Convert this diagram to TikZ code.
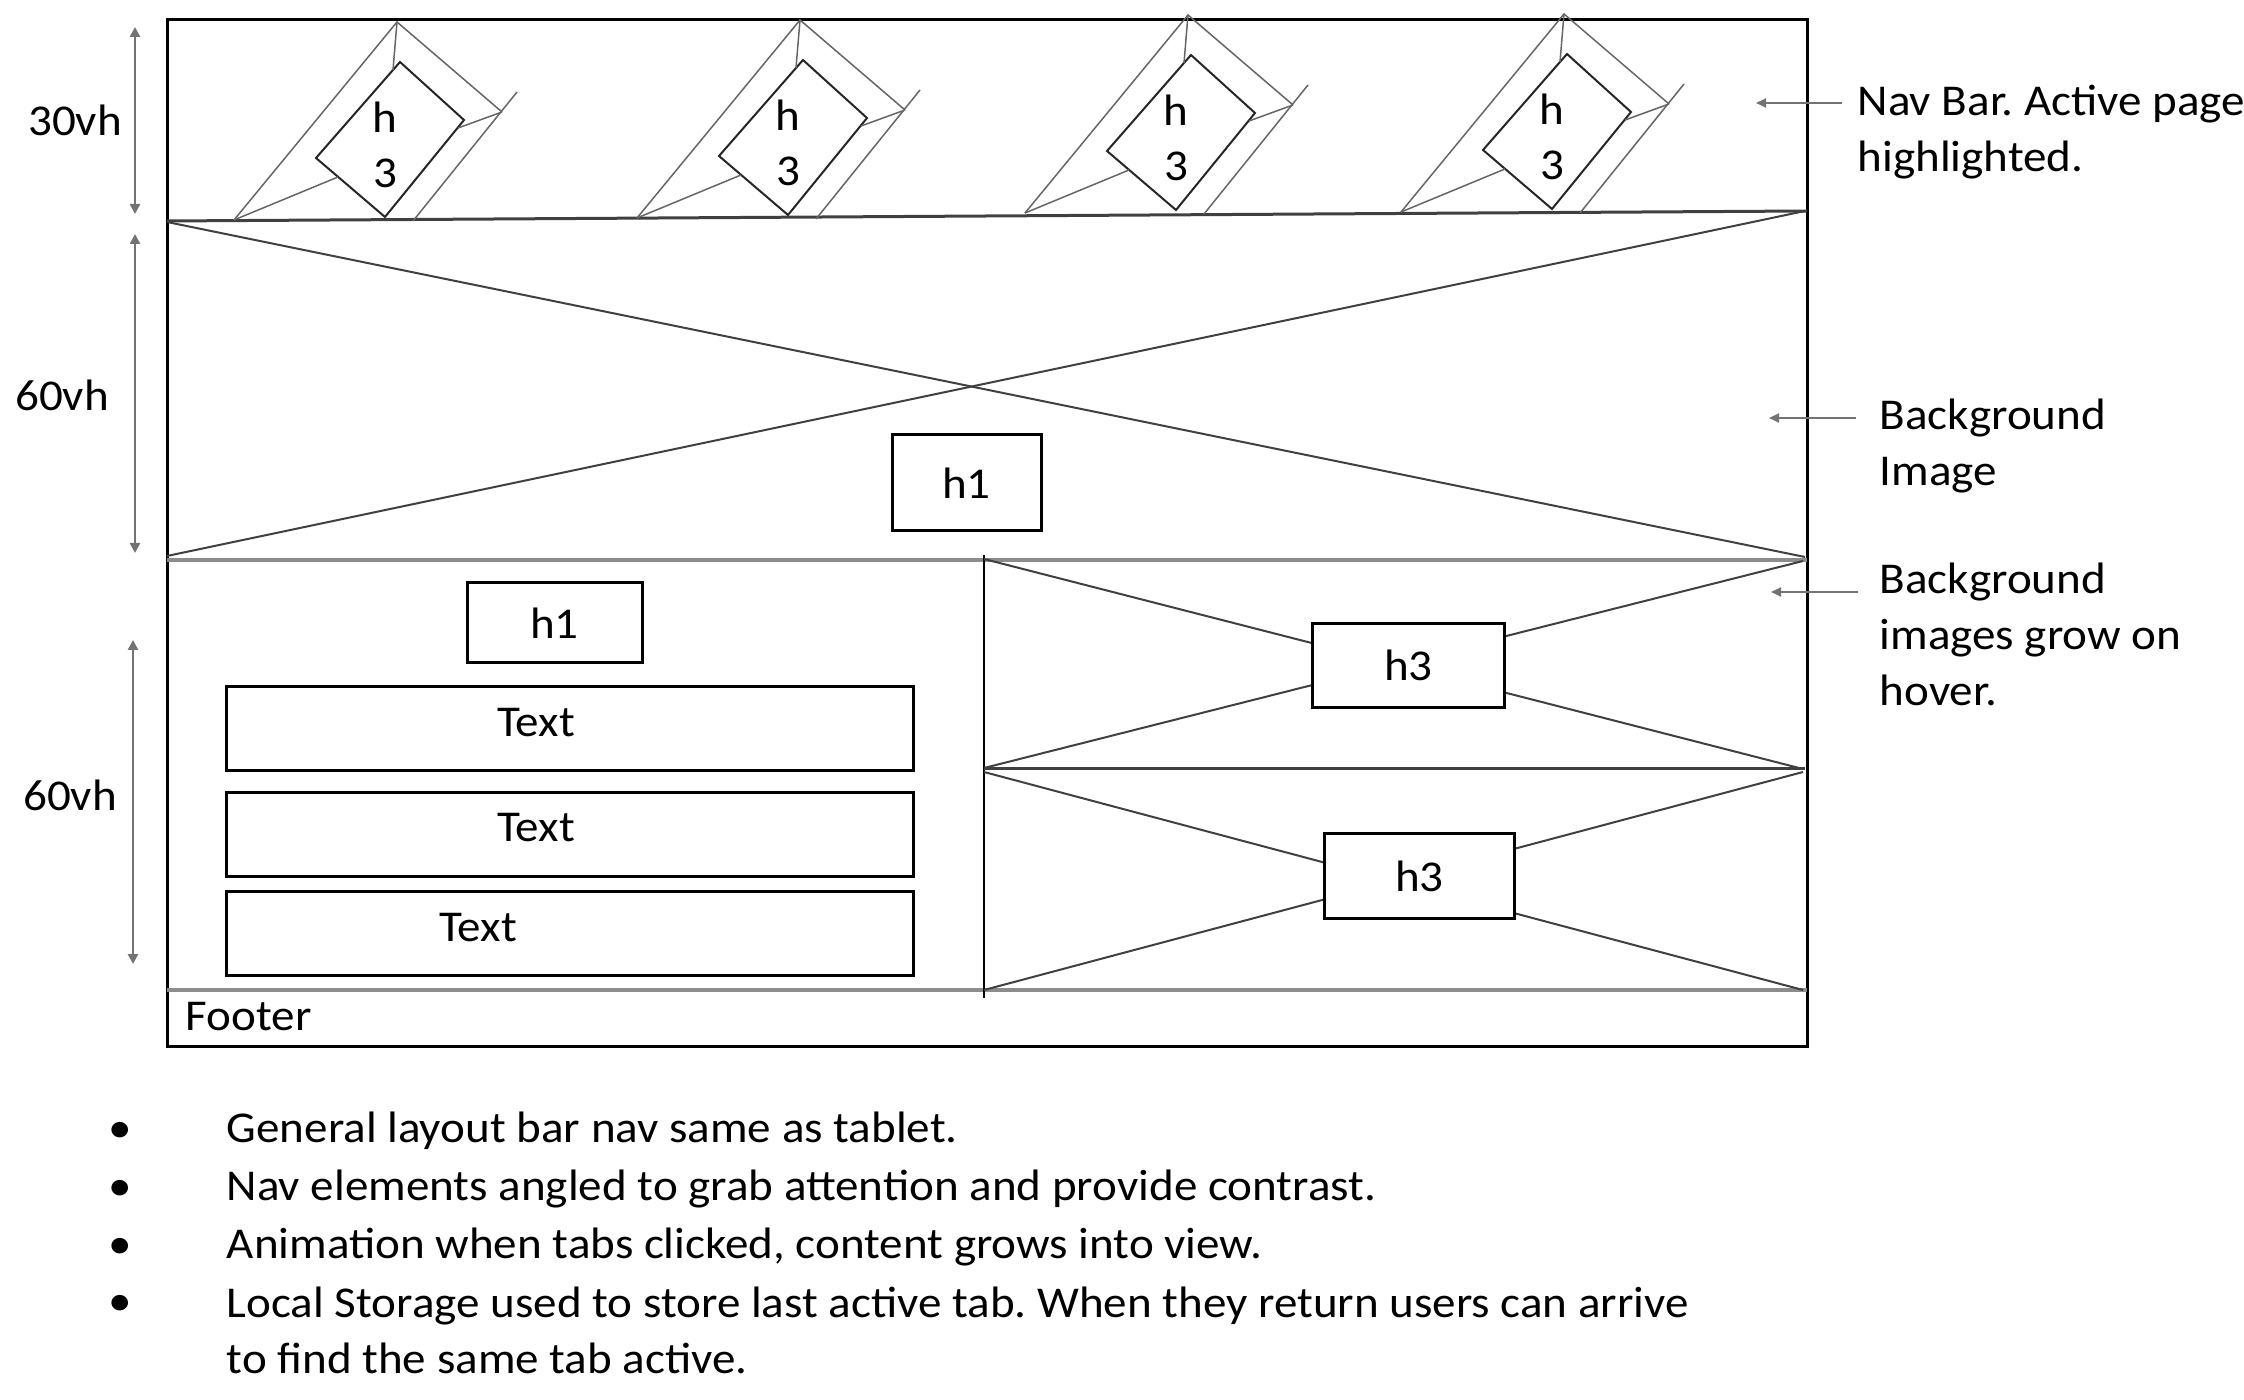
\documentclass[tikz,border=0pt]{standalone}
\usepackage{fontspec}
\setmainfont{Carlito}[FakeStretch=1.07]
\usetikzlibrary{arrows.meta}
\frenchspacing

\tikzset{every picture/.style={line width=0.75pt}}

\begin{document}
\begin{tikzpicture}[x=0.5pt,y=0.5pt,yscale=-1,xscale=1,
  every node/.style={font=\fontsize{22}{28}\selectfont, inner sep=0pt},
  frame/.style={draw=black, line width=1.5pt},
  navline/.style={draw=black!75, line width=1.5pt},
  band/.style={draw=black!45, line width=2.2pt},
  cross/.style={draw=black!75, line width=1pt},
  divider/.style={draw=black, line width=0.75pt},
  tabline/.style={draw=black!60, line width=0.75pt},
  tabface/.style={draw=black!85, line width=1pt},
  hbox/.style={draw=black, fill=white, line width=1.5pt},
  textbox/.style={draw=black, line width=1.5pt, minimum width=343.5pt, minimum height=42pt},
  note/.style={draw=black!55, line width=1pt, -{Triangle[length=5pt,width=4.5pt]}},
  dimarrow/.style={draw=black!55, line width=1.3pt, {Triangle[length=5pt,width=5pt]}-{Triangle[length=5pt,width=5pt]}},
  lbl/.style={align=left}
]
\useasboundingbox (0,0) rectangle (2244,1400);

%Shape: Page frame
\draw[frame] (167,20) rectangle (1807,1046) ;

%Shape: Hero image cross
\draw[cross] (167,222) -- (1805,557) ;
\draw[cross] (167,556) -- (1805,211) ;
%Shape: Nav bar bottom
\draw[navline] (167,221) -- (1807,211) ;
%Shape: Hero bottom
\draw[band] (167,560) -- (1807,560) ;
%Shape: Footer top
\draw[band] (167,990) -- (1807,990) ;
%Shape: Column divider
\draw[divider] (984,555) -- (984,998) ;

%Shape: Upper tile cross
\draw[cross] (984,559) -- (1803,769) ;
\draw[cross] (984,768) -- (1803,561) ;
%Shape: Lower tile cross
\draw[cross] (984,772) -- (1803,990) ;
\draw[cross] (984,990) -- (1803,772) ;
%Shape: Tile split
\draw[navline] (984,769) -- (1805,769) ;

%Shape: Tab 1
\draw[tabline] (234,220) -- (397,22) -- (502,112) ;
\draw[tabline] (517,92) -- (413,221) ;
\draw[tabface] (400,62) -- (464,120) -- (385,217) -- (316,158) -- cycle ;
\draw[tabline] (397,22) -- (393,70) ;
\draw[tabline] (234,220) -- (338,177) ;
\draw[tabline] (502,112) -- (458,128) ;
%Shape: Tab 2
\draw[tabline] (637,218) -- (800,20) -- (905,110) ;
\draw[tabline] (920,90) -- (816,219) ;
\draw[tabface] (803,60) -- (867,118) -- (788,215) -- (719,156) -- cycle ;
\draw[tabline] (800,20) -- (796,68) ;
\draw[tabline] (637,218) -- (741,175) ;
\draw[tabline] (905,110) -- (861,126) ;
%Shape: Tab 3
\draw[tabline] (1025,213) -- (1188,15) -- (1293,105) ;
\draw[tabline] (1308,85) -- (1204,214) ;
\draw[tabface] (1191,55) -- (1255,113) -- (1176,210) -- (1107,151) -- cycle ;
\draw[tabline] (1188,15) -- (1184,63) ;
\draw[tabline] (1025,213) -- (1129,170) ;
\draw[tabline] (1293,105) -- (1249,121) ;
%Shape: Tab 4
\draw[tabline] (1401,212) -- (1564,14) -- (1669,104) ;
\draw[tabline] (1684,84) -- (1580,213) ;
\draw[tabface] (1567,54) -- (1631,112) -- (1552,209) -- (1483,150) -- cycle ;
\draw[tabline] (1564,14) -- (1560,62) ;
\draw[tabline] (1401,212) -- (1505,169) ;
\draw[tabline] (1669,104) -- (1625,120) ;

% Text Node
\node[anchor=base] (tabhA) at (385,133) {h};
\node[anchor=base] (tabnA) at (385,188) {3};
\node[anchor=base] (tabhB) at (788,131) {h};
\node[anchor=base] (tabnB) at (788,186) {3};
\node[anchor=base] (tabhC) at (1176,126) {h};
\node[anchor=base] (tabnC) at (1176,181) {3};
\node[anchor=base] (tabhD) at (1552,125) {h};
\node[anchor=base] (tabnD) at (1552,180) {3};

% Text Node
\node[hbox, minimum width=74.5pt, minimum height=48pt] (heroh) at (966.5,483) {h1};
\node[hbox, minimum width=87.5pt, minimum height=40pt] (colh) at (554.5,623) {h1};
\node[hbox, minimum width=96pt, minimum height=42pt] (tileA) at (1408.5,665.5) {h3};
\node[hbox, minimum width=95pt, minimum height=42.5pt] (tileB) at (1419.5,876) {h3};

% Text Node
\node[textbox] (textboxA) at (569.5,729) {};
\node (textA) at (536,723) {Text};
\node[textbox] (textboxB) at (569.5,834.5) {};
\node (textB) at (536,828) {Text};
\node[textbox] (textboxC) at (569.5,933.5) {};
\node (textC) at (478,928) {Text};

% Text Node
\node[anchor=west] (footer) at (185,1017) {Footer};

% Text Node
\node (navh) at (75,120) {30vh};
\node (heroht) at (62,395) {60vh};
\node (colht) at (70,795) {60vh};
\coordinate (navtop) at (135,27) ;
\coordinate (navbot) at (135,214) ;
\coordinate (herotop) at (135,234) ;
\coordinate (herobot) at (135,553) ;
\coordinate (coltop) at (133,640) ;
\coordinate (colbot) at (133,964) ;
% Connection
\draw[dimarrow] (navtop) -- (navbot) ;
% Connection
\draw[dimarrow] (herotop) -- (herobot) ;
% Connection
\draw[dimarrow] (coltop) -- (colbot) ;

% Text Node
\node[lbl, anchor=base west] (navnote) at (1857,172) {Nav Bar. Active page\\highlighted.};
\node[lbl, anchor=base west] (heronote) at (1879,486) {Background\\Image};
\node[lbl, anchor=base west] (tilenote) at (1879,706) {Background\\images grow on\\hover.};
\coordinate (navnoteS) at (1842,103) ;
\coordinate (navnoteE) at (1756,103) ;
\coordinate (heronoteS) at (1856,418) ;
\coordinate (heronoteE) at (1769,418) ;
\coordinate (tilenoteS) at (1858,592) ;
\coordinate (tilenoteE) at (1771,592) ;
% Connection
\draw[note] (navnoteS) -- (navnoteE) ;
% Connection
\draw[note] (heronoteS) -- (heronoteE) ;
% Connection
\draw[note] (tilenoteS) -- (tilenoteE) ;

% Text Node
\node[anchor=base] (dotA) at (120,1142) {•};
\node[anchor=base west] (itemA) at (226,1142) {General layout bar nav same as tablet.};
\node[anchor=base] (dotB) at (120,1200) {•};
\node[anchor=base west] (itemB) at (226,1200) {Nav elements angled to grab attention and provide contrast.};
\node[anchor=base] (dotC) at (120,1258) {•};
\node[anchor=base west] (itemC) at (226,1258) {Animation when tabs clicked, content grows into view.};
\node[anchor=base] (dotD) at (120,1315) {•};
\node[lbl, anchor=base west] (itemD) at (226,1373) {Local Storage used to store last active tab. When they return users can arrive\\to find the same tab active.};

\end{tikzpicture}
\end{document}
